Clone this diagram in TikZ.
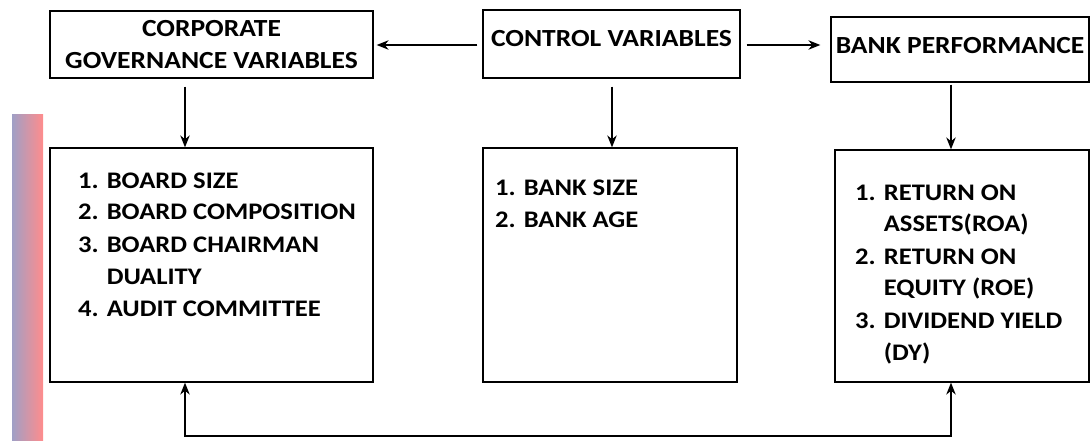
\documentclass[tikz,border=0pt]{standalone}
\usepackage{fontspec}
\setmainfont{Carlito}[FakeStretch=1.12]
\usetikzlibrary{arrows.meta,positioning,calc}

\begin{document}
\begin{tikzpicture}[
    x=1pt, y=-1pt,
    every node/.style={font=\bfseries\fontsize{24.6}{31.3}\selectfont},
    head/.style={rectangle, draw, line width=1.3pt, align=center, inner sep=0pt},
    listbox/.style={rectangle, draw, line width=1.3pt, inner sep=0pt},
    items/.style={anchor=base west, inner sep=0pt, font=\bfseries\fontsize{23.75}{32}\selectfont},
    arrow/.style={-{Stealth[length=12pt,width=9.5pt]}, line width=1.2pt}
]
\useasboundingbox (0,0) rectangle (1092,441);

% stray strip on the left
\shade[left color=blue!25!gray!60, right color=red!45] (12,115) rectangle (43,441);

% Top row
\node[head, minimum width=323pt, minimum height=67pt] (cg) at (211.5,44.5) {CORPORATE\\GOVERNANCE VARIABLES};
\node[head, minimum width=257pt, minimum height=68pt, text height=17pt, text depth=11.6pt] (ctrl) at (611.5,44) {CONTROL VARIABLES};
\node[head, minimum width=258pt, minimum height=65pt, text height=17pt, text depth=9.4pt] (perf) at (960,49.5) {BANK PERFORMANCE};

% Bottom row
\node[listbox, minimum width=323pt, minimum height=234pt] (gov) at (211.5,265) {};
\node[listbox, minimum width=254pt, minimum height=234pt] (ctl) at (610,265) {};
\node[listbox, minimum width=254pt, minimum height=232pt] (ret) at (962,266) {};

\node[items] (govlist) at (78,188) {\begin{tabular}[t]{@{}l@{ }l@{}}
1. & BOARD SIZE\\ 2. & BOARD COMPOSITION\\ 3. & BOARD CHAIRMAN\\ & DUALITY\\ 4. & AUDIT COMMITTEE\end{tabular}};
\node[items] (ctllist) at (495,195) {\begin{tabular}[t]{@{}l@{ }l@{}}
1. & BANK SIZE\\ 2. & BANK AGE\end{tabular}};
\node[items] (retlist) at (855,200) {\begin{tabular}[t]{@{}l@{ }l@{}}
1. & RETURN ON\\ & ASSETS(ROA)\\ 2. & RETURN ON\\ & EQUITY (ROE)\\ 3. & DIVIDEND YIELD\\ & (DY)\end{tabular}};

% Columns and base line
\coordinate (colA) at (185,0);
\coordinate (colB) at (612,0);
\coordinate (colC) at (951,0);
\coordinate (rowT) at (0,45);
\coordinate (base) at (0,436);

% Arrows
\draw[arrow, shorten <=5pt, shorten >=3pt] (ctrl.west |- rowT) -- (cg.east |- rowT);
\draw[arrow, shorten <=6pt, shorten >=10pt] (ctrl.east |- rowT) -- (perf.west |- rowT);
\draw[arrow, shorten <=8pt] (cg.south -| colA) -- (gov.north -| colA);
\draw[arrow, shorten <=8pt] (ctrl.south -| colB) -- (ctl.north -| colB);
\draw[arrow, shorten <=2pt] (perf.south -| colC) -- (ret.north -| colC);
\draw[arrow, {Stealth[length=12pt,width=9.5pt]}-{Stealth[length=12pt,width=9.5pt]}] (gov.south -| colA) -- (colA |- base) -- (colC |- base) -- (ret.south -| colC);

\end{tikzpicture}
\end{document}
